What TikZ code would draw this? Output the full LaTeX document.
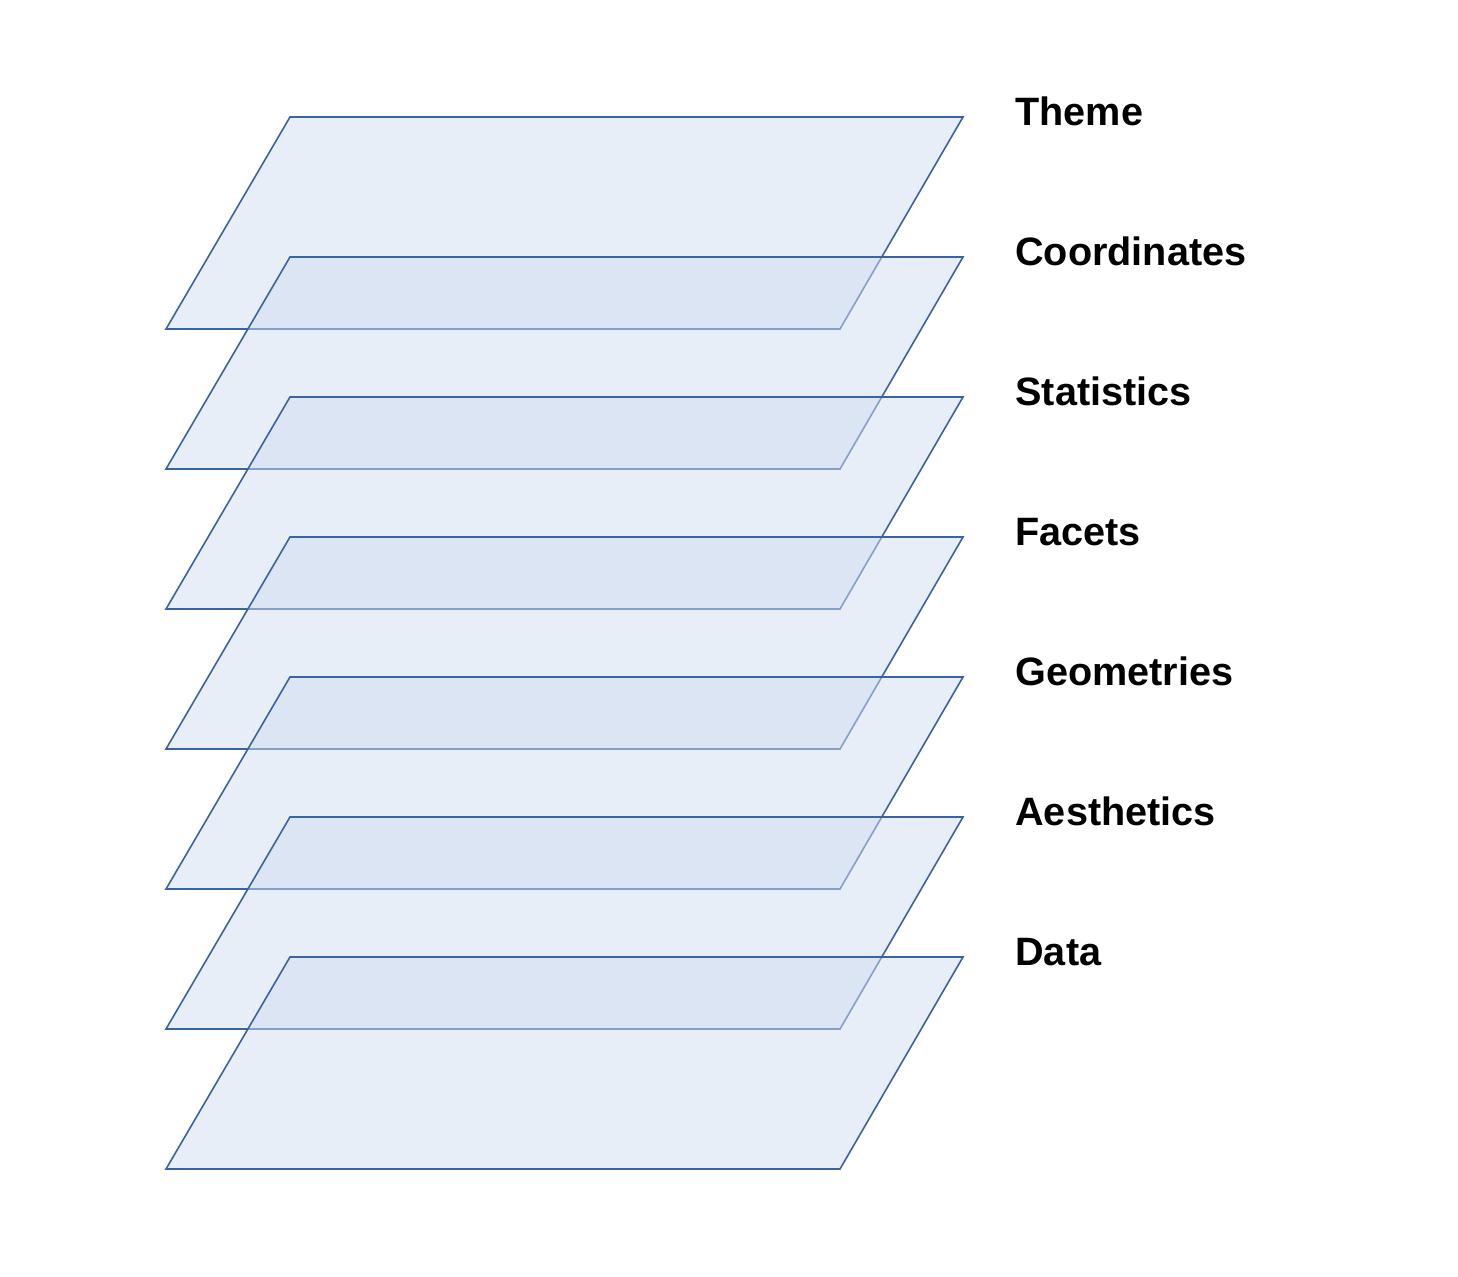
\documentclass[tikz,border=0pt]{standalone}
\usepackage{fontspec}
\setmainfont{Liberation Sans}
\usetikzlibrary{positioning}

\definecolor{layerline}{RGB}{58,99,160}
\definecolor{layerfill}{RGB}{207,221,241}

\begin{document}
\begin{tikzpicture}[
  x=0.5pt, y=-0.5pt,
  font=\fontsize{19.8}{24}\selectfont\bfseries,
  layer/.style={
    draw=layerline,
    fill=layerfill,
    fill opacity=0.5,
    line width=0.8pt,
    line join=miter
  },
  tag/.style={
    anchor=base west,
    inner sep=0pt
  }
]
\useasboundingbox (0,0) rectangle (1458,1276);
% layers, top one first so each lower one sits over it
\draw[layer] (290,117) -- (963,117) -- (840,329) -- (166,329) -- cycle;
\draw[layer] (290,257) -- (963,257) -- (840,469) -- (166,469) -- cycle;
\draw[layer] (290,397) -- (963,397) -- (840,609) -- (166,609) -- cycle;
\draw[layer] (290,537) -- (963,537) -- (840,749) -- (166,749) -- cycle;
\draw[layer] (290,677) -- (963,677) -- (840,889) -- (166,889) -- cycle;
\draw[layer] (290,817) -- (963,817) -- (840,1029) -- (166,1029) -- cycle;
\draw[layer] (290,957) -- (963,957) -- (840,1169) -- (166,1169) -- cycle;
% labels
\node[tag] (theme) at (1015,125) {Theme};
\node[tag] (coord) at (1015,265) {Coordinates};
\node[tag] (stats) at (1015,405) {Statistics};
\node[tag] (facets) at (1015,545) {Facets};
\node[tag] (geoms) at (1015,685) {Geometries};
\node[tag] (aes) at (1015,825) {Aesthetics};
\node[tag] (data) at (1015,965) {Data};
\end{tikzpicture}
\end{document}
